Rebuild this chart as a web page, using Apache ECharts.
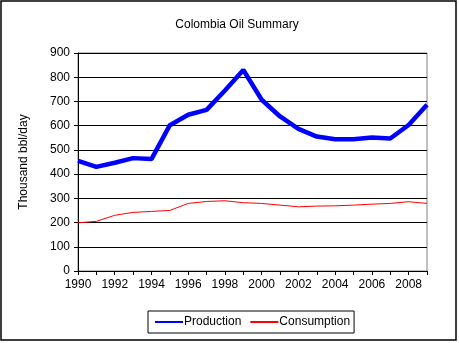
<!DOCTYPE html>
<html><head><meta charset="utf-8">
<script src="https://cdn.jsdelivr.net/npm/echarts@6/dist/echarts.min.js"></script>
<style>html,body{margin:0;padding:0;background:#fff}#c{width:459px;height:343px}</style>
</head><body><div id="c"></div>
<script>
const years = ['1990','1991','1992','1993','1994','1995','1996','1997','1998','1999','2000','2001','2002','2003','2004','2005','2006','2007','2008','2009'];
const production = [455,430,447,466,462,602,645,665,745,830,707,638,587,555,544,544,551,547,603,686];
const consumption = [199,205,230,242,246,250,279,287,290,282,279,272,265,268,269,272,276,279,286,279];
const yTicks = [0,100,200,300,400,500,600,700,800,900];

const F = 'Liberation Sans, Arial, sans-serif';
const chart = echarts.init(document.getElementById('c'), null, {renderer:'canvas'});
chart.setOption({
  animation:false,
  backgroundColor:'#fff',
  title:{text:'Colombia Oil Summary', left:232, textAlign:'center', top:14,
    textStyle:{fontFamily:F, fontSize:12, fontWeight:'normal', color:'#000'}},
  graphic:[{type:'rect', shape:{x:1, y:1, width:455, height:339}, style:{fill:null, stroke:'#000', lineWidth:1.5}, z:100}],
  grid:{left:78, right:32, top:53, bottom:72, show:true, borderColor:'#808080', borderWidth:1, containLabel:false},
  legend:{data:['Production','Consumption'], left:148, top:311, width:209, height:23,
    itemWidth:28, itemHeight:5, itemGap:8, padding:[5,4,5,6],
    borderColor:'#000', borderWidth:1,
    itemStyle:{opacity:0},
    textStyle:{fontFamily:F, fontSize:12, color:'#000', padding:[0,0,0,-4]}},
  xAxis:{type:'category', data:years, boundaryGap:false,
    axisLine:{lineStyle:{color:'#000'}},
    axisTick:{show:true, interval:0, length:4, lineStyle:{color:'#000'}},
    axisLabel:{interval:1, fontFamily:F, fontSize:12, color:'#000', margin:8},
    splitLine:{show:false}},
  yAxis:{type:'value', min:0, max:900, interval:100,
    name:'Thousand bbl/day', nameLocation:'middle', nameGap:48, nameRotate:90,
    nameTextStyle:{fontFamily:F, fontSize:12, color:'#000'},
    axisLine:{show:true, lineStyle:{color:'#000'}},
    axisTick:{show:true, length:4, lineStyle:{color:'#000'}},
    axisLabel:{fontFamily:F, fontSize:12, color:'#000', margin:8,
      formatter:v=>yTicks.includes(v)?String(v):''},
    splitLine:{show:true, lineStyle:{color:'#000', width:1}}},
  series:[
    {name:'Production', type:'line', data:production, symbol:'none', smooth:false,
      lineStyle:{color:'#0000ff', width:4.5}, itemStyle:{color:'#0000ff'}},
    {name:'Consumption', type:'line', data:consumption, symbol:'none', smooth:false,
      lineStyle:{color:'#ff0000', width:1}, itemStyle:{color:'#ff0000'}}
  ]
});
</script></body></html>
